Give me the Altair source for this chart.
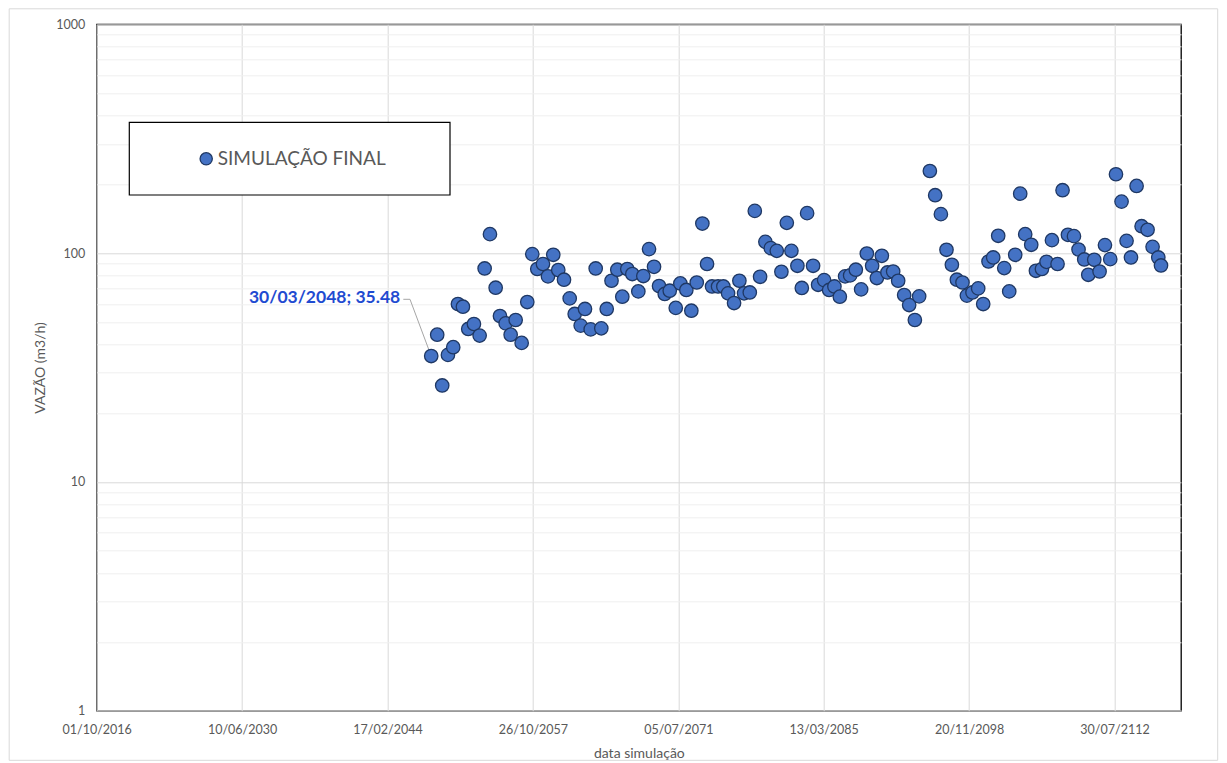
import altair as alt
import pandas as pd

# Excel date serials (days since 1899-12-30) of each simulated point
serials = [54147, 54353, 54525, 54722, 54904, 55066, 55238, 55420, 55616, 55812,
           55984, 56167, 56363, 56511, 56707, 56879, 57051, 57257, 57450, 57622,
           57794, 57990, 58162, 58344, 58516, 58713, 58909, 59081, 59287, 59435,
           59631, 59803, 59996, 60182, 60347, 60546, 60718, 60890, 61062, 61269,
           61441, 61637, 61809, 61981, 62177, 62349, 62556, 62714, 62920, 63092,
           63278, 63471, 63632, 63804, 64011, 64193, 64355, 64561, 64744, 64905,
           65102, 65274, 65456, 65638, 65824, 66030, 66189, 66375, 66533, 66739,
           66891, 67073, 67279, 67451, 67658, 67830, 68012, 68198, 68380, 68553,
           68748, 68931, 69127, 69309, 69471, 69643, 69836, 70032, 70204, 70410,
           70582, 70778, 70926, 71294, 71477, 71673, 71866, 72051, 72223, 72416,
           72567, 72760, 72956, 73128, 73311, 73472, 73644, 73851, 74023, 74229,
           74401, 74573, 74780, 74941, 75148, 75306, 75492, 75685, 75857, 76042,
           76249, 76407, 76603, 76741, 76947, 77130, 77315, 77497, 77694, 77886,
           78058, 78210, 78403, 78575, 78781, 78953, 79149, 79242]

vazao = [35.48, 44.0, 26.4, 35.9, 38.8, 59.9, 58.3, 46.6, 49.0, 43.6,
         85.7, 121.0, 70.6, 53.1, 49.3, 44.0, 51.0, 40.5, 61.1, 99.0,
         85.2, 89.6, 79.1, 98.3, 84.3, 76.5, 63.4, 54.2, 48.2, 57.0,
         46.4, 85.7, 46.9, 57.0, 75.7, 84.6, 64.5, 85.2, 81.0, 68.0,
         79.4, 104.1, 87.1, 71.8, 66.3, 68.5, 57.6, 73.7, 69.0, 56.0,
         74.4, 134.6, 89.6, 71.5, 71.5, 71.5, 66.7, 60.5, 75.7, 66.7,
         67.3, 152.9, 78.8, 112.0, 105.1, 102.3, 82.9, 135.6, 102.3, 88.0,
         70.4, 149.5, 88.0, 72.7, 76.2, 69.0, 71.5, 64.5, 79.1, 79.9,
         84.6, 69.4, 99.6, 88.0, 77.8, 97.3, 82.3, 83.1, 75.7, 65.6,
         59.3, 51.0, 64.7, 228.5, 179.1, 148.0, 103.4, 88.9, 76.5, 74.4,
         65.2, 67.3, 70.1, 59.9, 91.9, 95.7, 119.0, 86.0, 68.0, 98.3,
         181.9, 121.0, 108.7, 83.7, 85.2, 91.6, 113.9, 89.6, 188.3, 120.2,
         118.6, 103.7, 93.8, 80.4, 93.5, 83.1, 108.4, 94.1, 221.1, 167.9,
         113.1, 95.7, 196.6, 131.1, 126.4, 106.5, 95.7, 88.3]

series_name = "SIMULAÇÃO FINAL"
x_domain_serials = [42644, 79930]
x_tick_serials = [42644, 47644, 52644, 57644, 62644, 67644, 72644, 77644]
y_major = [1, 10, 100, 1000]
y_minor = [1, 2, 3, 4, 5, 6, 7, 8, 9, 10, 20, 30, 40, 50, 60, 70, 80, 90,
           100, 200, 300, 400, 500, 600, 700, 800, 900, 1000]

ORIGIN = "1899-12-30"


def to_dt(s):
    return pd.to_datetime(s, unit="D", origin=ORIGIN)


def to_altdt(s):
    d = to_dt(s)
    return alt.DateTime(year=int(d.year), month=int(d.month), date=int(d.day))


dates = [to_dt(s) for s in serials]
df = pd.DataFrame({
    "data": [d.strftime("%Y-%m-%dT00:00:00") for d in dates],
    "vazao": vazao,
    "serie": series_name,
})

ann = pd.DataFrame({
    "data": [df["data"][0]],
    "vazao": [vazao[0]],
    "label": [f"{dates[0].strftime('%d/%m/%Y')}; {vazao[0]:.2f}"],
})

FONT = "Lato"
GRAY = "#595959"

x_scale = alt.Scale(domain=[to_altdt(s) for s in x_domain_serials], nice=False, padding=0)
y_scale = alt.Scale(type="log", domain=[1, 1000], nice=False)

x_axis = alt.Axis(
    values=[to_altdt(s) for s in x_tick_serials], format="%d/%m/%Y", formatType="time",
    grid=True, gridColor="#d9d9d9", gridWidth=1, ticks=False, domain=False,
    labelFont=FONT, labelFontSize=12.5, labelColor=GRAY, labelPadding=13,
    labelOverlap=False, labelFlush=False,
    title="data simulação", titleFont=FONT, titleFontSize=14, titleColor=GRAY,
    titleFontWeight="normal", titlePadding=10,
)
major_test = "indexof([1,10,100,1000], datum.value) >= 0"
y_axis = alt.Axis(
    values=y_minor, grid=True,
    gridColor={"condition": {"test": major_test, "value": "#d9d9d9"}, "value": "#efefef"},
    gridWidth=1, ticks=False, domain=False,
    labelExpr=f"{major_test} ? '' + datum.value : ''",
    labelFont=FONT, labelFontSize=12.5, labelColor=GRAY, labelPadding=12,
    labelOverlap=False,
    title="VAZÃO (m3/h)", titleFont=FONT, titleFontSize=14, titleColor=GRAY,
    titleFontWeight="normal", titlePadding=8,
)

X = alt.X("data:T", scale=x_scale, axis=x_axis)
Y = alt.Y("vazao:Q", scale=y_scale, axis=y_axis)

one = pd.DataFrame({"k": [0]})

outer = alt.Chart(one).mark_rect(fill="white", fillOpacity=0, stroke="#d9d9d9", strokeWidth=1).encode(
    x=alt.value(-87.5), x2=alt.value(1121), y=alt.value(-15.5), y2=alt.value(736)
)

legend_box = alt.Chart(one).mark_rect(fill="white", stroke="black", strokeWidth=1.2).encode(
    x=alt.value(32.6), x2=alt.value(353.3), y=alt.value(98), y2=alt.value(170.7)
)

leader_diag = alt.Chart(ann).mark_rule(color="#a6a6a6", strokeWidth=1).encode(
    x=X, y=Y, x2=alt.value(313.3), y2=alt.value(275)
)
leader_h = alt.Chart(one).mark_rule(color="#a6a6a6", strokeWidth=1).encode(
    x=alt.value(306.6), x2=alt.value(313.3), y=alt.value(275)
)

points = alt.Chart(df).mark_circle(size=180, stroke="#1F3864", strokeWidth=1.3, opacity=1).encode(
    x=X, y=Y,
    color=alt.Color(
        "serie:N",
        scale=alt.Scale(domain=[series_name], range=["#4472C4"]),
        legend=alt.Legend(
            orient="none", legendX=100, legendY=125, title=None, padding=0,
            symbolType="circle", symbolSize=150, symbolStrokeColor="#1F3864",
            symbolStrokeWidth=1.3, symbolOpacity=1,
            labelFont=FONT, labelFontSize=19, labelColor=GRAY, labelOffset=2,
            labelLimit=400,
        ),
    ),
)

label = alt.Chart(ann).mark_text(
    align="right", baseline="middle", dx=-31, dy=-58,
    font=FONT, fontSize=17.5, fontWeight="bold", color="#1F4BD1",
).encode(x=X, y=Y, text="label:N")

chart = alt.layer(outer, legend_box, leader_diag, leader_h, points, label).properties(
    width=1084.3, height=686.4,
    autosize=alt.AutoSizeParams(type="none"),
    padding={"left": 88.7, "top": 16.3, "right": 38, "bottom": 52.3},
    background="white",
).configure_view(stroke="black", strokeWidth=1.3)

chart.save("out.html", embed_options={"renderer": "svg", "actions": False})
